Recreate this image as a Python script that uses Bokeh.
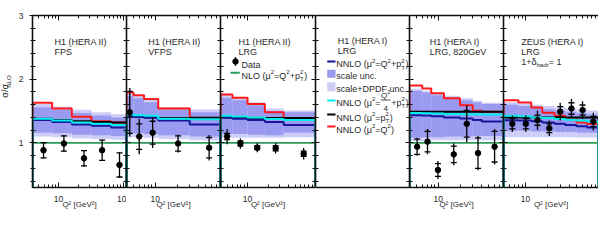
import math
from bokeh.plotting import figure
from bokeh.layouts import row
from bokeh.models import Range1d, FixedTicker, LinearAxis, LogAxis, Label
from bokeh.embed import file_html
from bokeh.resources import INLINE

# ================= data =================
# Panel 1: H1 (HERA II) FPS
fps_edges = [4, 8, 16, 32, 64, 110]
fps_nlo = [1, 1, 1, 1, 1]
fps_nnlo = [1.36, 1.33, 1.29, 1.27, 1.24]
fps_scale_lo = [1.16, 1.15, 1.13, 1.12, 1.11]
fps_scale_hi = [1.56, 1.52, 1.47, 1.43, 1.40]
fps_tot_lo = [1.10, 1.09, 1.07, 1.06, 1.05]
fps_tot_hi = [1.61, 1.57, 1.52, 1.48, 1.45]
fps_quarter = [1.38, 1.35, 1.32, 1.30, 1.28]
fps_pt = [1.38, 1.36, 1.34, 1.33, 1.32]
fps_q2 = [1.63, 1.54, 1.41, 1.34, 1.32]
fps_data_x = [5.9, 12.1, 24.6, 46.6, 86]
fps_data_y = [0.885, 0.99, 0.76, 0.885, 0.655]
fps_data_stat = [0.12, 0.12, 0.12, 0.16, 0.19]
fps_data_tot = [0.13, 0.13, 0.13, 0.17, 0.20]

# Panel 2: H1 (HERA II) VFPS
vfps_edges = [4, 5, 7, 11, 30, 80]
vfps_nlo = [1, 1, 1, 1, 1]
vfps_nnlo = [1.425, 1.41, 1.40, 1.35, 1.29]
vfps_scale_lo = [1.15, 1.15, 1.14, 1.12, 1.10]
vfps_scale_hi = [1.74, 1.70, 1.64, 1.52, 1.48]
vfps_tot_lo = [1.09, 1.09, 1.08, 1.06, 1.04]
vfps_tot_hi = [1.78, 1.74, 1.68, 1.56, 1.53]
vfps_quarter = [1.45, 1.435, 1.425, 1.38, 1.37]
vfps_pt = [1.41, 1.41, 1.40, 1.39, 1.395]
vfps_q2 = [1.79, 1.75, 1.69, 1.54, 1.39]
vfps_data_x = [4.44, 6.0, 9.2, 20.7, 55.7]
vfps_data_y = [1.48, 1.10, 1.16, 0.99, 0.925]
vfps_data_stat = [0.33, 0.20, 0.18, 0.12, 0.16]
vfps_data_tot = [0.38, 0.28, 0.24, 0.14, 0.20]

# Panel 3: H1 (HERA II) LRG
lrg2_edges = [4, 6, 10, 18, 34, 100]
lrg2_nlo = [1, 1, 1, 1, 1]
lrg2_nnlo = [1.40, 1.38, 1.36, 1.33, 1.28]
lrg2_scale_lo = [1.14, 1.14, 1.13, 1.12, 1.16]
lrg2_scale_hi = [1.71, 1.67, 1.59, 1.50, 1.48]
lrg2_tot_lo = [1.085, 1.08, 1.08, 1.08, 1.09]
lrg2_tot_hi = [1.756, 1.72, 1.64, 1.54, 1.51]
lrg2_quarter = [1.425, 1.415, 1.40, 1.375, 1.36]
lrg2_pt = [1.40, 1.40, 1.39, 1.39, 1.39]
lrg2_q2 = [1.76, 1.71, 1.61, 1.48, 1.385]
lrg2_data_x = [5.0, 7.85, 13.9, 25.9, 67]
lrg2_data_y = [1.10, 0.99, 0.925, 0.915, 0.83]
lrg2_data_stat = [0.05, 0.04, 0.03, 0.04, 0.04]
lrg2_data_tot = [0.12, 0.08, 0.07, 0.08, 0.09]

# Panel 5: H1 (HERA I) LRG, 820 GeV
lrg1_edges = [4, 6, 8, 12, 20, 30, 40, 80]
lrg1_nlo = [1, 1, 1, 1, 1, 1, 1]
lrg1_nnlo = [1.435, 1.43, 1.42, 1.40, 1.385, 1.36, 1.335]
lrg1_scale_lo = [1.08, 1.09, 1.09, 1.10, 1.10, 1.11, 1.11]
lrg1_scale_hi = [1.82, 1.79, 1.75, 1.71, 1.67, 1.64, 1.61]
lrg1_tot_lo = [1.03, 1.03, 1.04, 1.04, 1.04, 1.04, 1.04]
lrg1_tot_hi = [1.85, 1.82, 1.78, 1.74, 1.70, 1.66, 1.63]
lrg1_quarter = [1.47, 1.465, 1.46, 1.455, 1.45, 1.45, 1.445]
lrg1_pt = [1.49, 1.49, 1.49, 1.49, 1.49, 1.49, 1.49]
lrg1_q2 = [1.90, 1.855, 1.78, 1.70, 1.59, 1.505, 1.49]
lrg1_data_x = [5.1, 7.1, 9.9, 16.4, 24.8, 35.5, 60.2]
lrg1_data_y = [0.94, 1.02, 0.575, 0.82, 1.30, 0.84, 0.94]
lrg1_data_stat = [0.12, 0.16, 0.10, 0.13, 0.21, 0.24, 0.24]
lrg1_data_tot = [0.14, 0.20, 0.14, 0.17, 0.29, 0.27, 0.28]

# Panel 6: ZEUS (HERA I) LRG
zeus_edges = [5, 8, 12, 17, 25, 35, 50, 70, 100]
zeus_nlo = [1, 1, 1, 1, 1, 1, 1, 1]
zeus_nnlo = [1.357, 1.35, 1.34, 1.32, 1.30, 1.28, 1.26, 1.24]
zeus_scale_lo = [1.19, 1.19, 1.18, 1.18, 1.17, 1.17, 1.16, 1.16]
zeus_scale_hi = [1.60, 1.58, 1.55, 1.53, 1.51, 1.49, 1.47, 1.45]
zeus_tot_lo = [1.09, 1.09, 1.09, 1.09, 1.09, 1.09, 1.085, 1.085]
zeus_tot_hi = [1.64, 1.62, 1.60, 1.58, 1.56, 1.54, 1.52, 1.51]
zeus_quarter = [1.425, 1.42, 1.40, 1.39, 1.375, 1.365, 1.35, 1.335]
zeus_pt = [1.40, 1.40, 1.40, 1.40, 1.40, 1.40, 1.40, 1.40]
zeus_q2 = [1.67, 1.635, 1.555, 1.475, 1.425, 1.39, 1.32, 1.295]
zeus_data_x = [6.6, 10.1, 14.6, 21.2, 29.9, 42.6, 60.5, 85]
zeus_data_y = [1.30, 1.30, 1.357, 1.23, 1.49, 1.54, 1.515, 1.335]
zeus_data_stat = [0.08, 0.08, 0.08, 0.07, 0.08, 0.09, 0.08, 0.08]
zeus_data_tot = [0.13, 0.13, 0.15, 0.12, 0.14, 0.15, 0.14, 0.14]

# ticks (the "100" label of the first panel is cut to "10" by the next panel)
y_major_ticks = [1, 2, 3]
y_minor_ticks = [0.4, 0.6, 0.8, 1.2, 1.4, 1.6, 1.8, 2.2, 2.4, 2.6, 2.8]
x_minor_ticks = [2, 3, 4, 5, 6, 7, 8, 9, 20, 30, 40, 50, 60, 70, 80, 90]
x_tick_labels = {10: "10", 100: "10"}

# ================= style =================
FONT = "Liberation Sans"
TXT = "#2a2a2a"
C_RED = "#ff1a1a"
C_NAVY = "#16169a"
C_CYAN = "#00eeee"
C_BLACK = "#000000"
C_GREEN = "#2f9a5c"
C_SCALE = "#9a9af0"
C_TOT = "#cdcdf8"

Y0, Y1 = 0.3, 3.0
FRAME_H = 172
TOP, BOT = 15, 60
H = TOP + FRAME_H + BOT
W0 = 13            # strip holding the y-axis title
LEFT0 = 32 - W0    # left border of first panel (tick labels)

W = {' ': 278, '(': 333, ')': 333, '+': 584, ',': 278, '-': 333, '.': 278, '/': 278, '=': 584,
     '[': 278, ']': 278, 'μ': 576, 'σ': 617, 'δ': 556, '²': 333}
for ch in "0123456789":
    W[ch] = 556
W.update(dict(A=667, B=667, C=722, D=722, E=667, F=611, G=778, H=722, I=278, L=556, N=722,
              O=778, P=667, Q=778, R=722, S=667, T=611, U=722, V=667, Z=611))
W.update(dict(a=556, c=500, d=556, e=556, h=556, i=222, l=222, n=556, p=556, r=333, s=500,
              t=278, u=556))


def tw(s, size):
    return sum(W.get(ch, 556) for ch in s) * size / 1000.0


def put(fig, x, y, text, size, xo, yo, angle=0.0, color=TXT, align="left", base="alphabetic"):
    fig.add_layout(Label(x=x, y=y, text=text, x_offset=xo, y_offset=yo, angle=angle,
                         text_font=FONT, text_font_size=f"{size:.1f}px", text_color=color,
                         text_baseline=base, text_align=align))


def rich(fig, x, y, pieces, size=9.0, xo=0.0, yo=0.0):
    adv = 0.0

    def emit(t, s, rise, a):
        put(fig, x, y, t, s, xo + a, yo + rise)

    for kind, t in pieces:
        s2 = 0.68 * size
        if kind == "n":
            emit(t, size, 0, adv)
            adv += tw(t, size)
        elif kind == "sup":
            emit(t, s2, 0.42 * size, adv)
            adv += tw(t, s2)
        elif kind == "sub":
            emit(t, s2, -0.3 * size, adv)
            adv += tw(t, s2)
        elif kind == "ss":
            sup, sub = t
            emit(sup, s2, 0.42 * size, adv)
            emit(sub, s2, -0.3 * size, adv)
            adv += max(tw(sup, s2), tw(sub, s2)) + 0.5
    return adv


def hist_xy(edges, vals, base=0.0):
    xs, ys = [edges[0]], [base]
    for i, v in enumerate(vals):
        xs += [edges[i], edges[i + 1]]
        ys += [v, v]
    xs.append(edges[-1])
    ys.append(base)
    return xs, ys


def style_axis(ax, ticks, tin, tout, mtin, mtout, labels=False):
    ax.axis_line_color = "#111111"
    ax.axis_line_width = 1.6
    ax.major_tick_line_color = "#111111"
    ax.minor_tick_line_color = "#111111"
    ax.major_tick_line_width = 1
    ax.minor_tick_line_width = 1
    ax.major_tick_in = tin
    ax.major_tick_out = tout
    ax.minor_tick_in = mtin
    ax.minor_tick_out = mtout
    ax.major_label_text_font = FONT
    ax.major_label_text_color = TXT
    if not labels:
        ax.major_label_overrides = {t: "" for t in ticks}
        ax.major_label_text_font_size = "1px"
        ax.major_label_standoff = 0


def make_fig(fw, xr, log=True, first=False):
    p = figure(width=fw + (LEFT0 if first else 0), height=H,
               x_range=Range1d(*xr), y_range=Range1d(Y0, Y1),
               x_axis_type="log" if log else "linear",
               output_backend="svg", toolbar_location=None,
               min_border_left=LEFT0 if first else 0, min_border_right=0,
               min_border_top=TOP, min_border_bottom=BOT,
               outline_line_color=None, background_fill_color="white",
               border_fill_color="white")
    p.grid.visible = False
    return p


def y_ticker():
    return FixedTicker(ticks=y_major_ticks, minor_ticks=y_minor_ticks)


def data_panel(fw, xr, edges, nlo, nnlo, slo, shi, tlo, thi, quarter, pt, q2,
               dx, dy, dstat, dtot, xmajor, first=False, right=True):
    p = make_fig(fw, xr, True, first)
    # bottom
    xb = p.xaxis[0]
    xb.ticker = FixedTicker(ticks=xmajor, minor_ticks=x_minor_ticks)
    style_axis(xb, xmajor, 5, 0, 3, 0, labels=True)
    xb.major_label_overrides = {k: v for k, v in x_tick_labels.items() if k in xmajor}
    xb.major_label_text_font_size = "8.5px"
    xb.major_label_standoff = 8
    xb.axis_label = "Q² [GeV²]"
    xb.axis_label_text_font = FONT
    xb.axis_label_text_font_style = "normal"
    xb.axis_label_text_font_size = "8px"
    xb.axis_label_text_color = TXT
    xb.axis_label_standoff = -5
    # top
    xa = LogAxis(ticker=FixedTicker(ticks=xmajor, minor_ticks=x_minor_ticks))
    style_axis(xa, xmajor, 5, 0, 3, 0)
    p.add_layout(xa, "above")
    # left
    yl = p.yaxis[0]
    yl.ticker = y_ticker()
    if first:
        style_axis(yl, y_major_ticks, 4, 3, 3, 2, labels=True)
        yl.major_label_text_font_size = "8.5px"
        yl.major_label_standoff = 6
    else:
        style_axis(yl, y_major_ticks, 4, 0, 3, 0)
    if right:
        yr = LinearAxis(ticker=y_ticker())
        style_axis(yr, y_major_ticks, 4, 0, 3, 0)
        p.add_layout(yr, "right")

    lefts, rights = edges[:-1], edges[1:]
    p.quad(left=lefts, right=rights, bottom=tlo, top=thi, fill_color=C_TOT, line_color=None)
    p.quad(left=lefts, right=rights, bottom=slo, top=shi, fill_color=C_SCALE, line_color=None)
    for vals, col, lw in [(q2, C_RED, 2.0), (pt, C_BLACK, 2.0), (nnlo, C_NAVY, 2.0),
                          (quarter, C_CYAN, 2.0), (nlo, C_GREEN, 1.6)]:
        xs, ys = hist_xy(edges, vals)
        p.line(xs, ys, line_color=col, line_width=lw)
    lo_t = [y - e for y, e in zip(dy, dtot)]
    hi_t = [y + e for y, e in zip(dy, dtot)]
    lo_s = [y - e for y, e in zip(dy, dstat)]
    hi_s = [y + e for y, e in zip(dy, dstat)]
    p.segment(x0=dx, y0=lo_t, x1=dx, y1=hi_t, line_color="black", line_width=1.3)
    p.scatter(dx + dx, lo_s + hi_s, marker="dash", size=6, line_color="black", line_width=1.3)
    p.scatter(dx, dy, marker="circle", size=5.5, fill_color="black", line_color="black")
    return p


# ================= panels =================
XR1, XR2, XR3, XR5, XR6 = (4, 110), (4, 80), (4, 100), (4, 80), (5, 100)
FW = [94, 94, 95, 94, 94, 95]

p1 = data_panel(FW[0], XR1, fps_edges, fps_nlo, fps_nnlo, fps_scale_lo, fps_scale_hi,
                fps_tot_lo, fps_tot_hi, fps_quarter, fps_pt, fps_q2,
                fps_data_x, fps_data_y, fps_data_stat, fps_data_tot, [10, 100], first=True)
p2 = data_panel(FW[1], XR2, vfps_edges, vfps_nlo, vfps_nnlo, vfps_scale_lo, vfps_scale_hi,
                vfps_tot_lo, vfps_tot_hi, vfps_quarter, vfps_pt, vfps_q2,
                vfps_data_x, vfps_data_y, vfps_data_stat, vfps_data_tot, [10])
p3 = data_panel(FW[2], XR3, lrg2_edges, lrg2_nlo, lrg2_nnlo, lrg2_scale_lo, lrg2_scale_hi,
                lrg2_tot_lo, lrg2_tot_hi, lrg2_quarter, lrg2_pt, lrg2_q2,
                lrg2_data_x, lrg2_data_y, lrg2_data_stat, lrg2_data_tot, [10])
p5 = data_panel(FW[4], XR5, lrg1_edges, lrg1_nlo, lrg1_nnlo, lrg1_scale_lo, lrg1_scale_hi,
                lrg1_tot_lo, lrg1_tot_hi, lrg1_quarter, lrg1_pt, lrg1_q2,
                lrg1_data_x, lrg1_data_y, lrg1_data_stat, lrg1_data_tot, [10])
p6 = data_panel(FW[5], XR6, zeus_edges, zeus_nlo, zeus_nnlo, zeus_scale_lo, zeus_scale_hi,
                zeus_tot_lo, zeus_tot_hi, zeus_quarter, zeus_pt, zeus_q2,
                zeus_data_x, zeus_data_y, zeus_data_stat, zeus_data_tot, [10], right=False)

# legend panel (no x scale)
p4 = make_fig(FW[3], (0, 1), log=False)
xb4 = p4.xaxis[0]
xb4.ticker = FixedTicker(ticks=[0.5])
style_axis(xb4, [0.5], 0, 0, 0, 0)
xa4 = LinearAxis(ticker=FixedTicker(ticks=[0.5]))
style_axis(xa4, [0.5], 0, 0, 0, 0)
p4.add_layout(xa4, "above")
yl4 = p4.yaxis[0]
yl4.ticker = y_ticker()
style_axis(yl4, y_major_ticks, 4, 0, 3, 0)
yr4 = LinearAxis(ticker=y_ticker())
style_axis(yr4, y_major_ticks, 4, 0, 3, 0)
p4.add_layout(yr4, "right")

# narrow strip for the rotated y-axis title (pieces centred, so rotation is exact)
p0 = figure(width=W0, height=H, x_range=Range1d(0, W0), y_range=Range1d(0, H),
            x_axis_location=None, y_axis_location=None, output_backend="svg",
            toolbar_location=None, min_border_left=0, min_border_right=0,
            min_border_top=0, min_border_bottom=0, outline_line_color=None)
p0.grid.visible = False
main_w = tw("σ/σ", 9.0)
sub_w = tw("NLO", 6.1)
start = 115.0
put(p0, 4.6, H - (start - main_w / 2), "σ/σ", 9.0, 0, 0, angle=math.pi / 2,
    align="center", base="middle")
put(p0, 8.4, H - (start - main_w - sub_w / 2 - 0.3), "NLO", 6.1, 0, 0, angle=math.pi / 2,
    align="center", base="middle")


def py2y(off):  # pixel offset below frame top -> y value
    return Y1 - off * (Y1 - Y0) / FRAME_H


def px2x(off, xr, fw):
    lo, hi = xr
    return lo * (hi / lo) ** (off / fw)


# ---- panel titles ----
PT = lambda s: [("n", s)]
for fig, xr, dxp, lines in [
    (p1, XR1, 22, [PT("H1 (HERA II)"), PT("FPS")]),
    (p2, XR2, 21.7, [PT("H1 (HERA II)"), PT("VFPS")]),
    (p3, XR3, 18, [PT("H1 (HERA II)"), PT("LRG")]),
    (p5, XR5, 20.3, [PT("H1 (HERA I)"), PT("LRG, 820GeV")]),
    (p6, XR6, 17.7, [PT("ZEUS (HERA I)"), PT("LRG"),
                     [("n", "1+δ"), ("sub", "hadr"), ("n", " = 1")]]),
]:
    for i, pieces in enumerate(lines):
        rich(fig, xr[0], Y1, pieces, 9.0, xo=dxp, yo=-(26.3 + 10.2 * i))

# ---- panel 3 legend (data, NLO) ----
lx = px2x(15, XR3, FW[2])
ly = py2y(46)
p3.segment(x0=[lx], y0=[py2y(41.5)], x1=[lx], y1=[py2y(50.5)], line_color="black", line_width=1.3)
p3.scatter([lx], [ly], marker="circle", size=5.5, fill_color="black", line_color="black")
rich(p3, XR3[0], Y1, [("n", "Data")], 9.0, xo=21, yo=-49.0)
p3.line([px2x(10, XR3, FW[2]), px2x(19.3, XR3, FW[2])], [py2y(57.3)] * 2,
        line_color=C_GREEN, line_width=2)
rich(p3, XR3[0], Y1, [("n", "NLO (μ"), ("sup", "2"), ("n", "=Q"), ("sup", "2"), ("n", "+p"),
                      ("ss", ("2", "T")), ("n", ")")], 9.0, xo=21, yo=-60.5)

# ---- panel 4 legend ----
LX0, LX1 = 11.7 / FW[3], 20 / FW[3]
rich(p4, 0, Y1, PT("H1 (HERA I)"), 9.0, xo=22.3, yo=-25.8)
rich(p4, 0, Y1, PT("LRG"), 9.0, xo=22.3, yo=-35.8)
mu_pieces = lambda rest: [("n", "NNLO (μ"), ("sup", "2"), ("n", "=")] + rest
p4.line([LX0, LX1], [py2y(46)] * 2, line_color=C_NAVY, line_width=2)
rich(p4, 0, Y1, mu_pieces([("n", "Q"), ("sup", "2"), ("n", "+p"), ("ss", ("2", "T")), ("n", ")")]),
     9.0, xo=20.7, yo=-48.8)
p4.quad(left=[LX0], right=[LX1], bottom=[py2y(62.3)], top=[py2y(54.3)],
        fill_color=C_SCALE, line_color=None)
rich(p4, 0, Y1, PT("scale unc."), 9.0, xo=20.7, yo=-60.8)
p4.quad(left=[LX0], right=[LX1], bottom=[py2y(75.7)], top=[py2y(66.7)],
        fill_color=C_TOT, line_color=None)
rich(p4, 0, Y1, PT("scale+DPDF unc."), 9.0, xo=20.7, yo=-73.8)
# cyan entry with stacked fraction Q^2/4
p4.line([LX0, LX1], [py2y(85)] * 2, line_color=C_CYAN, line_width=2)
cy = -87.3
adv = rich(p4, 0, Y1, mu_pieces([]), 9.0, xo=20.7, yo=cy)
fx = 20.7 + adv + 0.5
numw = rich(p4, 0, Y1, [("n", "Q"), ("sup", "2")], 8.0, xo=fx, yo=cy + 7.0)
rich(p4, 0, Y1, [("n", "4")], 8.0, xo=fx + (numw - tw("4", 8.0)) / 2, yo=cy - 6.0)
p4.line([(fx - 0.3) / FW[3], (fx + numw + 0.3) / FW[3]], [py2y(-cy - 2.8)] * 2,
        line_color=TXT, line_width=0.8)
rich(p4, 0, Y1, [("n", "+p"), ("ss", ("2", "T")), ("n", ")")], 9.0, xo=fx + numw + 1.0, yo=cy)
p4.line([LX0, LX1], [py2y(99)] * 2, line_color=C_BLACK, line_width=2)
rich(p4, 0, Y1, mu_pieces([("n", "p"), ("ss", ("2", "T")), ("n", ")")]), 9.0, xo=20.7, yo=-102.2)
p4.line([LX0, LX1], [py2y(111)] * 2, line_color=C_RED, line_width=2)
rich(p4, 0, Y1, mu_pieces([("n", "Q"), ("sup", "2"), ("n", ")")]), 9.0, xo=20.7, yo=-114.0)

layout = row(p0, p1, p2, p3, p4, p5, p6, spacing=0)
open("out.html", "w").write(file_html(layout, INLINE))
